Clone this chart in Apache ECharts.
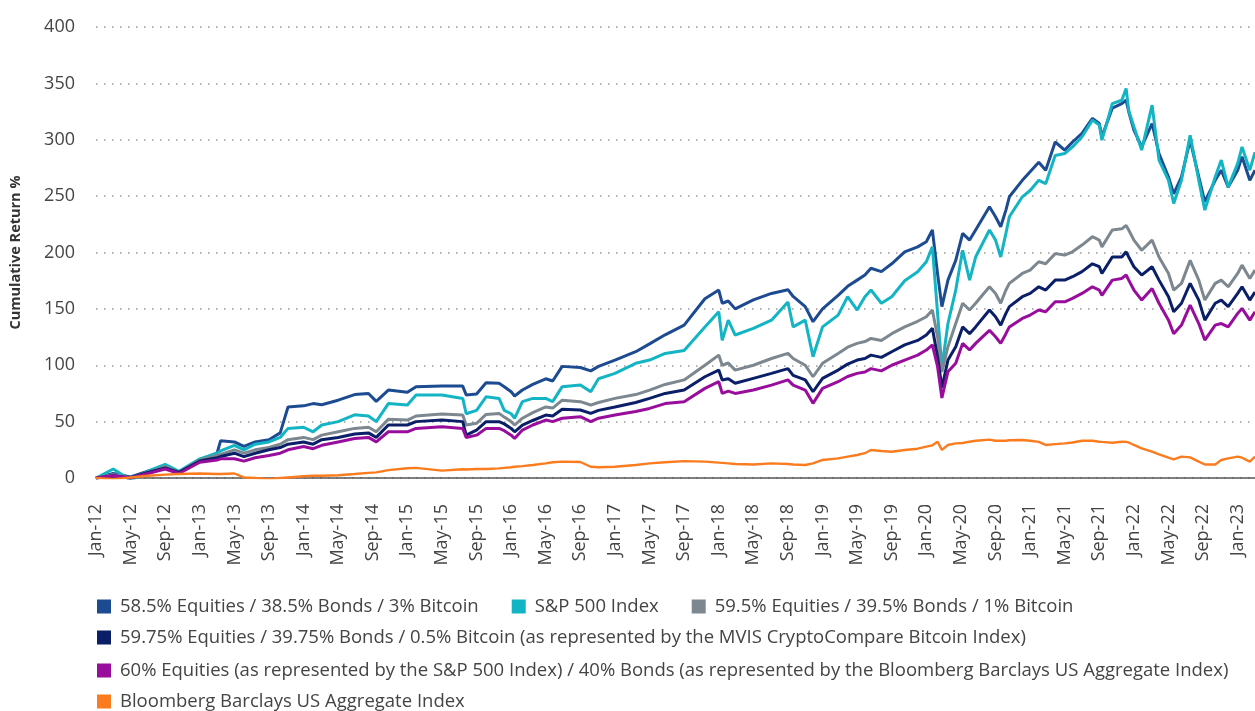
<!DOCTYPE html>
<html>
<head>
    <meta charset="utf-8" />
    <title>Cumulative Return</title>
    <style>
        body { margin: 0; padding: 0; background: #fff; }
        #chart { width: 1255px; height: 711px; }
    </style>
</head>
<body>
    <div id="chart"></div>
    <script src="https://cdn.jsdelivr.net/npm/echarts@6.0.0/dist/echarts.min.js"></script>
    <script type="text/javascript">
        // x position of each reading, in months counted from Jan-12
        var monthIdx = [
            0, 2, 4, 6, 8, 9.6, 12, 14, 14.4, 16, 17.1, 18.4, 20, 21.3, 22.2, 24, 25.1, 26.1, 28, 29.9, 31.5, 32.4, 33.8,
            36, 37, 40, 42.4, 42.8, 44, 45.1, 46.6, 47.2, 48, 48.4, 49.3, 50.5, 52, 52.8, 53.9, 56, 57.2, 58.1, 60, 62.4, 64, 65.8,
            68, 70.4, 72, 72.4, 73.1, 73.9, 76, 78.1, 80, 80.6, 82, 82.9, 84, 85.8, 86.9, 88, 88.9, 89.6, 90.8, 92, 93.5, 95, 96, 96.7, 97.3, 97.8, 98.5,
            99.4, 100.2, 101, 101.7, 103.3, 104, 104.6, 105.2, 105.6, 107.1, 108, 109, 109.8, 110.9, 112, 112.9, 114, 115.2, 116, 116.3,
            117.5, 118.6, 119.1, 119.4, 120, 120.9, 122.1, 122.9, 124, 124.6, 125.5, 126.5, 127.5, 128.2, 129.4, 130.1, 130.9, 132, 132.5, 133.4, 134
        ];

        var tickLabels = [
            'Jan-12', 'May-12', 'Sep-12', 'Jan-13', 'May-13', 'Sep-13', 'Jan-14', 'May-14', 'Sep-14',
            'Jan-15', 'May-15', 'Sep-15', 'Jan-16', 'May-16', 'Sep-16', 'Jan-17', 'May-17', 'Sep-17',
            'Jan-18', 'May-18', 'Sep-18', 'Jan-19', 'May-19', 'Sep-19', 'Jan-20', 'May-20', 'Sep-20',
            'Jan-21', 'May-21', 'Sep-21', 'Jan-22', 'May-22', 'Sep-22', 'Jan-23'
        ];

        var names = [
            '58.5% Equities / 38.5% Bonds / 3% Bitcoin',
            'S&P 500 Index',
            '59.5% Equities / 39.5% Bonds / 1% Bitcoin',
            '59.75% Equities / 39.75% Bonds / 0.5% Bitcoin (as represented by the MVIS CryptoCompare Bitcoin Index)',
            '60% Equities (as represented by the S&P 500 Index) / 40% Bonds (as represented by the Bloomberg Barclays US Aggregate Index)',
            'Bloomberg Barclays US Aggregate Index'
        ];

        var btc3 = [
            0, 4, 1, 6, 11, 5, 16, 22, 33, 32, 28, 32, 34, 40, 63, 64, 66, 65, 69, 74, 75, 68, 78,
            76, 81, 81.5, 81.5, 73.6, 74.5, 84.5, 84, 81, 76.5, 72.7, 78, 83, 88, 86, 99, 98, 95, 99, 104.6, 112, 119, 127,
            135.6, 159, 166.7, 155, 157, 150, 158, 163.7, 167, 161, 152, 138.6, 150, 162, 170, 175.5, 180, 186, 183, 190, 200.6, 205, 209.5, 220, 181, 152, 175.5,
            193, 217, 211, 220, 240.5, 231.7, 222.8, 237.6, 249.4, 264, 271.6, 280, 273, 298, 290.8, 298, 305.6, 319, 314.4, 302.6,
            328, 332, 335, 324.8, 308.5, 293.7, 314.4, 287.8, 267, 252, 267, 299.6, 267, 245, 264, 273, 258, 273, 285, 264, 273
        ];
        var sp500 = [
            0, 8, -2, 6, 12, 6, 17, 22, 24, 29, 25, 30, 32, 36, 44, 45, 41, 47, 50, 56, 55, 50, 66,
            64.7, 73.6, 73.6, 70.6, 57, 60, 72, 70.6, 60, 57, 53, 67.7, 70.6, 70.6, 67.7, 81, 82.4, 76.5, 88, 92.8, 101.7, 104.6, 110.5,
            113, 134, 147.5, 122, 140, 126.8, 132.7, 140, 156, 134, 140, 107.6, 134, 144.5, 160.8, 149, 160.8, 166.7, 155, 160.8, 175, 183, 191.8, 205, 146, 98, 137,
            166.7, 202, 175.5, 196, 220, 211, 196, 217, 231.7, 249.4, 255, 264, 261, 286, 287.8, 293.7, 302.6, 317.4, 313, 299.6,
            332, 335, 345.5, 326, 311.5, 290.8, 330.7, 282, 264, 243.5, 264, 304, 264, 237.6, 267, 282, 258, 279, 293.7, 273, 289
        ];
        var btc1 = [
            0, 3, 0, 5, 10, 5, 16, 20, 21, 25, 22, 25, 27, 30, 34, 36, 34, 38, 41, 44, 45, 41, 52,
            51.4, 55, 56.7, 55.8, 47, 48.5, 56.4, 57.3, 54, 50, 47, 53, 58, 63, 62, 69, 67.7, 64.7, 67, 70.6, 74, 78, 83,
            87, 100, 109, 100, 102, 95.7, 100, 106, 110.5, 106, 100, 89.8, 101.7, 110.5, 116, 119.4, 121, 123.8, 122, 128, 134, 139, 143, 149, 125, 94, 116.4,
            137, 155, 149, 155, 169.6, 163.7, 155, 166.7, 172.6, 181.4, 184.4, 191.8, 190, 199, 197.7, 200.6, 206.6, 214, 211, 205,
            220, 221, 224, 220, 211, 202, 211, 196, 181.4, 166.7, 172.6, 193, 175.5, 157.8, 172.6, 175.5, 169.6, 181.4, 188.8, 177, 184.4
        ];
        var btcHalf = [
            0, 2, 0, 5, 9, 5, 15, 18, 19, 22, 19, 22, 25, 27, 30, 32, 30, 34, 36, 39, 40, 36, 47,
            47, 50, 51.4, 50, 38, 42.5, 50, 50, 48, 44, 41, 47, 51, 55.8, 55, 60.9, 60.3, 57.3, 60, 63, 67, 70.6, 75,
            78, 89.8, 95.7, 87, 88, 84, 88.4, 92.8, 97, 91, 87, 76.5, 88.4, 95.7, 101, 104.6, 106, 109, 107, 112, 118, 122, 126.8, 132.7, 107.6, 80, 104.6,
            116.4, 134, 128, 134, 149, 143, 135.6, 146, 152, 160.8, 163.7, 169.6, 166.7, 175.5, 175.5, 178.5, 183, 190, 187.4, 181.4,
            196, 196, 200.6, 196, 187.4, 180, 187.4, 175.5, 160.8, 147.5, 155, 172.6, 157.8, 140, 155, 157.8, 152, 163.7, 169.6, 157.8, 165
        ];
        var mix6040 = [
            0, 2, 0, 4, 8, 4, 14, 16, 17, 17, 15, 18, 20, 22, 25, 28, 26, 29, 32, 35, 36, 32, 41,
            41, 44, 45.5, 44, 36, 38, 44, 44, 42, 38, 35, 42.5, 47, 51.4, 50, 53, 54.4, 50, 53, 55.8, 59, 61.7, 66,
            67.7, 79.5, 85.4, 75, 77, 75, 78, 82.4, 87, 82.4, 78, 66.2, 79.5, 85.4, 90, 92.8, 94, 97, 95, 100, 104.6, 109, 113.5, 118, 98.7, 71, 94.3,
            101.7, 119.4, 113.5, 119.4, 131, 125.3, 119.4, 128, 134, 141.5, 144.5, 149, 147.5, 156.3, 156.3, 159.3, 163.7, 169.6, 166.7, 162,
            175.5, 177, 180, 175.5, 166.7, 157.8, 168, 155, 140, 128, 135.6, 153.4, 137, 122.3, 135.6, 137, 134, 146, 150.4, 140, 147.5
        ];
        var aggBond = [
            0, -1, 0.5, 2, 3, 3.5, 4, 3.5, 3.5, 4, 0.5, 0, -1, 0, 0.5, 1.5, 2, 2, 2.5, 3.5, 4.5, 5, 7,
            8.6, 9, 6.5, 7.7, 7.5, 8, 8, 8.5, 9, 9.5, 10, 10.5, 11.5, 13, 14, 14.5, 14.2, 10, 9.5, 10, 11.5, 13, 14,
            15, 14.5, 13.6, 13.4, 13, 12.4, 12, 13, 12.4, 12, 11.5, 13, 16, 17.4, 19, 20.4, 22, 24.8, 24, 23.3, 24.8, 26, 27.8, 29, 32.2, 25, 29.3,
            30.7, 31, 32.2, 33, 34, 33, 33, 33, 33.5, 33.7, 33, 32, 29.3, 30, 30.7, 31.5, 33, 33, 32.2, 32,
            31.3, 32.2, 32, 31.5, 29.3, 26.3, 23.3, 21, 18, 16.5, 19, 18.3, 14.5, 12, 12, 16, 17.4, 19, 18, 14.5, 19
        ];

        var colors = ['#1d4b91', '#13b4c4', '#7d878f', '#0b1f69', '#990d9c', '#fb7c1f'];
        var values = [btc3, sp500, btc1, btcHalf, mix6040, aggBond];

        function pairs(arr) {
            var out = [];
            for (var i = 0; i < monthIdx.length; i++) {
                out.push([monthIdx[i], arr[i]]);
            }
            return out;
        }

        var series = [];
        for (var k = 0; k < values.length; k++) {
            series.push({
                name: names[k],
                type: 'line',
                showSymbol: false,
                symbol: 'none',
                data: pairs(values[k]),
                lineStyle: { width: k == 5 ? 2.4 : 3, color: colors[k] },
                itemStyle: { color: colors[k] }
            });
        }

        var legendBase = {
            icon: 'rect',
            itemWidth: 14,
            itemHeight: 14,
            selectedMode: false,
            left: 97,
            padding: 0,
            itemGap: 33,
            textStyle: { fontFamily: 'Open Sans', fontSize: 18.5, color: '#444', padding: [0, 0, 0, 4] }
        };

        var myChart = echarts.init(document.getElementById('chart'));
        var option = {
            animation: false,
            color: colors,
            grid: { left: 91, right: 0, top: 27, bottom: 233 },
            legend: [
                echarts.util.extend({ top: 597, data: [names[0], names[1], names[2]] }, legendBase),
                echarts.util.extend({ top: 628, data: [names[3]] }, legendBase),
                echarts.util.extend({ top: 661, data: [names[4]] }, legendBase),
                echarts.util.extend({ top: 692, data: [names[5]] }, legendBase)
            ],
            xAxis: {
                type: 'value',
                min: 0,
                max: 134,
                interval: 4,
                axisLine: { show: true, onZero: false, lineStyle: { color: '#555', width: 1.5 } },
                axisTick: { show: false },
                splitLine: { show: false },
                axisLabel: {
                    rotate: 90,
                    margin: 26,
                    showMaxLabel: false,
                    fontFamily: 'Open Sans',
                    fontSize: 18,
                    color: '#444',
                    formatter: function (v) {
                        var t = tickLabels[v / 4];
                        return t ? t : '';
                    }
                }
            },
            yAxis: {
                type: 'value',
                min: 0,
                max: 400,
                interval: 50,
                name: 'Cumulative Return %',
                nameLocation: 'middle',
                nameRotate: 90,
                nameGap: 73,
                nameTextStyle: { fontFamily: 'Open Sans', fontSize: 14.5, fontWeight: 'bold', color: '#333' },
                axisLine: { show: false },
                axisTick: { show: false },
                axisLabel: { margin: 21, fontFamily: 'Open Sans', fontSize: 18, color: '#444' },
                splitLine: { lineStyle: { color: '#999', width: 1.5, type: [1.5, 6.5] } }
            },
            series: series
        };
        myChart.setOption(option);
    </script>
</body>
</html>
